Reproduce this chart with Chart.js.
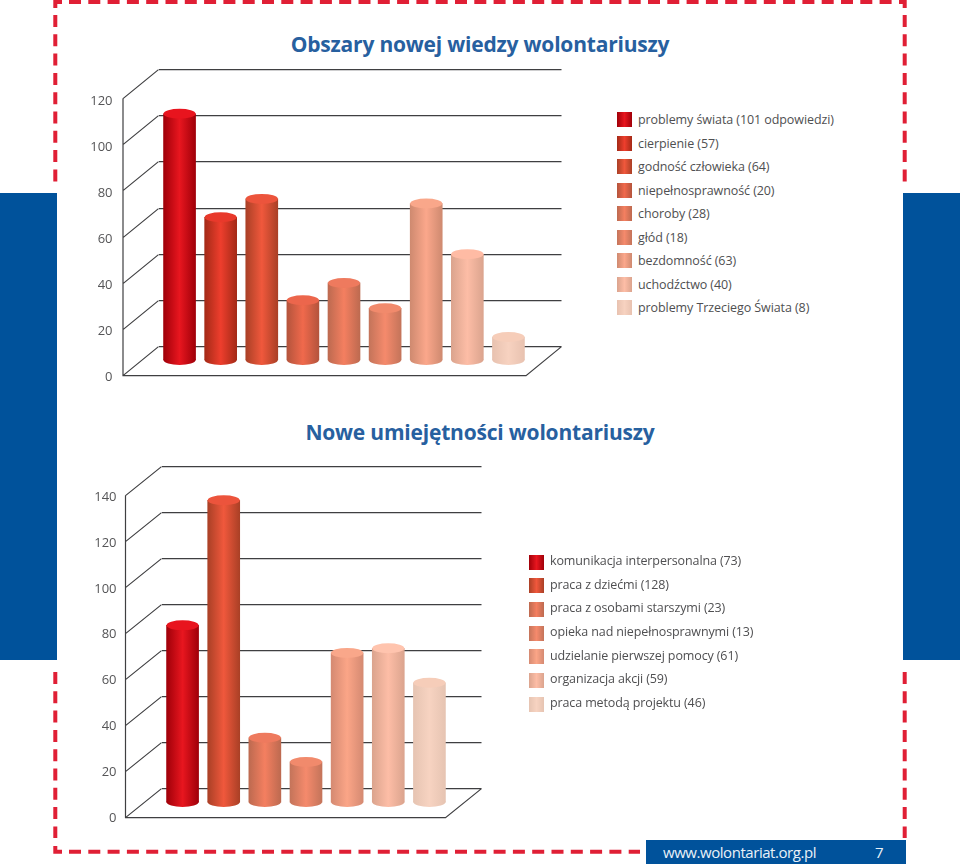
<!DOCTYPE html>
<html lang="pl">
<head>
<meta charset="utf-8">
<title>Obszary nowej wiedzy wolontariuszy</title>
<script src="https://cdn.jsdelivr.net/npm/chart.js@4"></script>
<style>
  html,body{margin:0;padding:0;background:#fff;}
  #page{position:relative;width:960px;height:864px;overflow:hidden;background:#fff;font-family:"Open Sans",sans-serif;}
  .blue{position:absolute;background:#00529b;}
  svg{position:absolute;left:0;top:0;}
  canvas{position:absolute;left:0;}
  h2{position:absolute;left:0;width:960px;margin:0;text-align:center;color:#27609f;font:700 21px/26px "Open Sans",sans-serif;letter-spacing:-0.2px;}
  .legend{position:absolute;}
  .row{position:absolute;left:0;white-space:nowrap;color:#4f4f51;font-size:12.5px;line-height:15px;letter-spacing:-0.08px;}
  .row i{position:absolute;left:0;top:0;width:15px;height:15px;}
  .row span{position:absolute;left:21px;top:0;}
  #l2 .row{letter-spacing:-0.12px;}
  #l2 .row span{top:-1.5px;}
  #url{position:absolute;left:663px;top:842px;color:#e9f1f8;font-size:15px;line-height:20px;letter-spacing:-0.45px;}
  #pg{position:absolute;left:875px;top:842px;color:#e9f1f8;font-size:15px;line-height:20px;}
</style>
</head>
<body>
<div id="page">
  <div class="blue" style="left:0;top:193px;width:57px;height:467px"></div>
  <div class="blue" style="left:903px;top:193px;width:57px;height:467px"></div>
  <svg width="960" height="864" fill="none" stroke="#e01f35" stroke-width="4">
    <g stroke-dasharray="12 7.3">
      <path d="M55.3 15V182M55.3 672V838M904.7 15V182M904.7 672V838M69 2H892M69 851.7H640"/>
    </g>
    <path d="M55.3 8V2H62M899 2H904.7V8M55.3 846V851.7H62"/>
  </svg>
  <div class="blue" style="left:646px;top:840px;width:260px;height:24px"></div>
  <div id="url">www.wolontariat.org.pl</div>
  <div id="pg">7</div>

  <h2 style="top:31px">Obszary nowej wiedzy wolontariuszy</h2>
  <h2 style="top:419px">Nowe umiejętności wolontariuszy</h2>

  <canvas id="c1" width="600" height="400" style="top:0"></canvas>
  <canvas id="c2" width="600" height="400" style="top:440px"></canvas>
  <div id="l1" class="legend" style="left:617px;top:112px"></div>
  <div id="l2" class="legend" style="left:529px;top:554.5px"></div>
</div>
<script>
const categoriesA = ['problemy świata','cierpienie','godność człowieka','niepełnosprawność','choroby','głód','bezdomność','uchodźctwo','problemy Trzeciego Świata'];
const legendCountsA = [101,57,64,20,28,18,63,40,8];
const barValuesA = [101,56,64,20,27.5,16.5,62,40,4];
const yTicksA = [0,20,40,60,80,100,120];
const edgeA = ['#a00009','#a42a17','#aa4026','#b4543c','#bd6a50','#c4745a','#cf8a70','#dba48e','#e8c2b0'];
const centerA = ['#e8161f','#ee3e2d','#f0583c','#f0694c','#f47f60','#f58a6c','#fba78b','#fdbda6','#f7d2c0'];
const capA = ['#e8141e','#e8392b','#ec543c','#ec664c','#ee7a5e','#f18a6c','#f9a78a','#ffbba4','#f6cdb9'];

const categoriesB = ['komunikacja interpersonalna','praca z dziećmi','praca z osobami starszymi','opieka nad niepełnosprawnymi','udzielanie pierwszej pomocy','organizacja akcji','praca metodą projektu'];
const legendCountsB = [73,128,23,13,61,59,46];
const barValuesB = [71,125.5,22,11.5,59,61,46];
const yTicksB = [0,20,40,60,80,100,120,140];
const edgeB = ['#a00009','#aa4026','#bd6a50','#c4745a','#d58a72','#dba48e','#e6c4b2'];
const centerB = ['#e8161f','#f0583c','#f47f60','#f58a6c','#fba587','#fdbda6','#f7d3c1'];
const capB = ['#e8141e','#ec543c','#ee7a5e','#f18a6c','#f9a78a','#ffc4ae','#f6cdb9'];

Chart.defaults.font.family = '"Open Sans", sans-serif';
Chart.defaults.animation = false;

const LINE = '#3f3f41';
const LW = 1.2;

function makeChart(id, s){
  const walls = {
    id:'walls',
    beforeDatasetsDraw(chart){
      const {ctx, chartArea:a, scales:{y}} = chart;
      const y0 = y.getPixelForValue(0), f = y.bottom;
      const d = Math.round(f - y0);
      const bx = a.left - 0.5, fx = bx - s.depth, rx = s.wallRight;
      const al = p => Math.round(p - LW/2) + LW/2;
      const fTop = al(y.getPixelForValue(s.ticks[s.ticks.length-1])) + d;
      ctx.save();
      ctx.strokeStyle = LINE; ctx.lineWidth = LW;
      ctx.beginPath();
      s.ticks.forEach(t=>{
        const py = al(y.getPixelForValue(t));
        ctx.moveTo(fx, py + d); ctx.lineTo(bx, py);
        ctx.moveTo(a.right, py); ctx.lineTo(rx, py);
      });
      ctx.moveTo(fx, fTop); ctx.lineTo(fx, al(y0) + d);
      ctx.lineTo(rx - s.depth, al(y0) + d);
      ctx.lineTo(rx, al(y0));
      ctx.stroke();
      ctx.restore();
    },
    afterDatasetsDraw(chart){
      const {ctx} = chart;
      chart.getDatasetMeta(0).data.forEach((el,i)=>{
        const rx = el.width/2, ry = 5;
        ctx.save();
        const g = ctx.createLinearGradient(el.x-rx,0,el.x+rx,0);
        g.addColorStop(0,s.edge[i]); g.addColorStop(.5,s.center[i]); g.addColorStop(1,s.edge[i]);
        ctx.fillStyle = g;
        ctx.beginPath(); ctx.ellipse(el.x, el.base, rx, ry, 0, 0, Math.PI*2); ctx.fill();
        ctx.fillStyle = s.cap[i];
        ctx.beginPath(); ctx.ellipse(el.x, el.y, rx, ry, 0, 0, Math.PI*2); ctx.fill();
        ctx.restore();
      });
    }
  };
  return new Chart(document.getElementById(id),{
    type:'bar',
    data:{labels:s.labels,datasets:[{
      data:s.values,
      base:-6,
      barThickness:32,
      borderWidth:0,
      backgroundColor(c){
        const chart=c.chart, x=chart.scales.x;
        if(c.dataIndex===undefined||!x) return s.center[0];
        const px=x.getPixelForValue(c.dataIndex);
        if(!Number.isFinite(px)) return s.center[c.dataIndex];
        const g=chart.ctx.createLinearGradient(px-16,0,px+16,0);
        g.addColorStop(0,s.edge[c.dataIndex]);
        g.addColorStop(.5,s.center[c.dataIndex]);
        g.addColorStop(1,s.edge[c.dataIndex]);
        return g;
      }
    }]},
    options:{
      responsive:false,
      devicePixelRatio:1,
      layout:{autoPadding:false,padding:{top:s.top,bottom:s.bottom,right:s.right,left:0}},
      plugins:{legend:{display:false},title:{display:false},tooltip:{enabled:false}},
      scales:{
        x:{display:false,offset:true,grid:{display:false}},
        y:{
          min:-12.5,max:s.ticks[s.ticks.length-1],
          afterFit(sc){sc.width=s.left;sc.paddingTop=0;sc.paddingBottom=0;},
          afterBuildTicks(sc){sc.ticks=s.ticks.map(v=>({value:v}));},
          border:{display:false},
          grid:{color:LINE,lineWidth:LW,drawTicks:false},
          ticks:{autoSkip:false,padding:s.pad,labelOffset:s.off,color:'#555557',font:{size:13}}
        }
      }
    },
    plugins:[walls]
  });
}

makeChart('c1',{labels:categoriesA,values:barValuesA,ticks:yTicksA,edge:edgeA,center:centerA,cap:capA,
  top:70,bottom:25,right:71,left:159,pad:46.5,off:31,depth:35.5,wallRight:561.5});
makeChart('c2',{labels:categoriesB,values:barValuesB,ticks:yTicksB,edge:edgeB,center:centerB,cap:capB,
  top:27,bottom:23,right:150,left:162,pad:45.5,off:30,depth:36,wallRight:481.5});

function buildLegend(id,cats,counts,edge,center,step,suffix){
  const box=document.getElementById(id);
  cats.forEach((c,i)=>{
    const r=document.createElement('div');
    r.className='row';
    r.style.top=(i*step)+'px';
    const sw=document.createElement('i');
    sw.style.background=`linear-gradient(90deg,${edge[i]},${center[i]} 50%,${edge[i]})`;
    const t=document.createElement('span');
    t.textContent=`${c} (${counts[i]}${i===0?suffix:''})`;
    r.append(sw,t);box.append(r);
  });
}
buildLegend('l1',categoriesA,legendCountsA,edgeA,centerA,23.55,' odpowiedzi');
buildLegend('l2',categoriesB,legendCountsB,edgeB,centerB,23.67,'');
</script>
</body>
</html>
